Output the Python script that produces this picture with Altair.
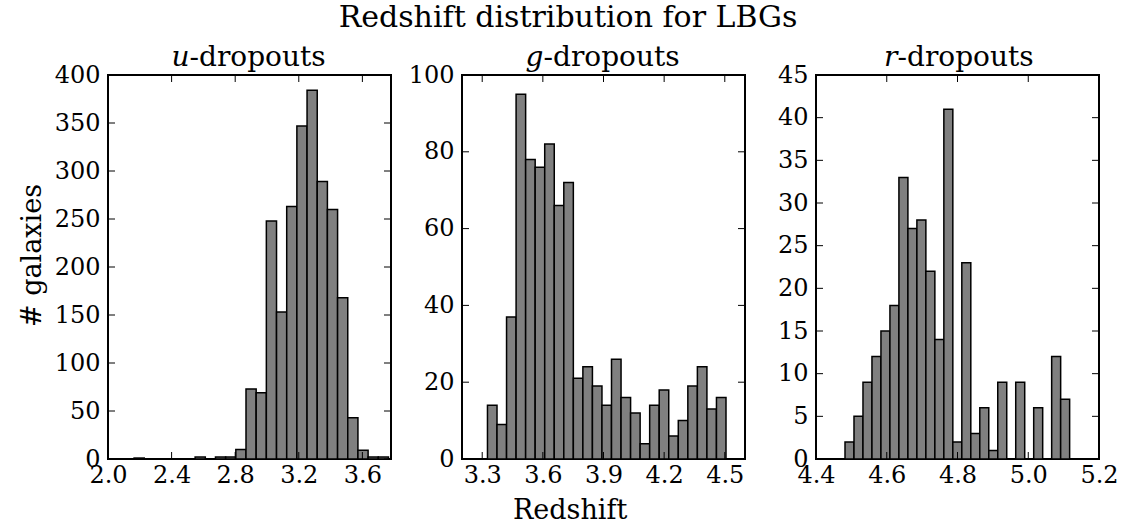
import altair as alt
import pandas as pd

FONT = "DejaVu Serif"
W, H = 283, 384          # plot area of each panel
TICK = 7                 # inward tick length
SPLIT = W / 2 - 60       # where the italic band letter meets "-dropouts"

# u-dropouts: left bin edges, bin width and counts
u_lo = [2.036, 2.100, 2.164, 2.228, 2.292, 2.356, 2.420, 2.484, 2.548,
        2.612, 2.676, 2.740, 2.804, 2.868, 2.932, 2.996, 3.060, 3.124,
        3.188, 3.252, 3.316, 3.380, 3.444, 3.508, 3.572, 3.636, 3.700]
u_width = 0.064
u_counts = [0, 0, 1, 0, 0, 0, 0, 0, 2, 0, 2, 2, 10, 73, 69, 248, 153, 263,
            347, 384, 289, 260, 168, 43, 9, 2, 2]
u_xdomain = [2.0, 3.78]
u_xticks = [2.0, 2.4, 2.8, 3.2, 3.6]
u_ydomain = [0, 400]
u_yticks = [0, 50, 100, 150, 200, 250, 300, 350, 400]

# g-dropouts
g_lo = [3.3260, 3.3732, 3.4204, 3.4676, 3.5148, 3.5620, 3.6092, 3.6564,
        3.7036, 3.7508, 3.7980, 3.8452, 3.8924, 3.9396, 3.9868, 4.0340,
        4.0812, 4.1284, 4.1756, 4.2228, 4.2700, 4.3172, 4.3644, 4.4116,
        4.4588]
g_width = 0.0472
g_counts = [14, 9, 37, 95, 78, 76, 82, 66, 72, 21, 24, 19, 14, 26, 16, 12,
            4, 14, 18, 6, 10, 19, 24, 13, 16]
g_xdomain = [3.2, 4.6]
g_xticks = [3.3, 3.6, 3.9, 4.2, 4.5]
g_ydomain = [0, 100]
g_yticks = [0, 20, 40, 60, 80, 100]

# r-dropouts
r_lo = [4.4820, 4.5074, 4.5328, 4.5582, 4.5836, 4.6090, 4.6344, 4.6598,
        4.6852, 4.7106, 4.7360, 4.7614, 4.7868, 4.8122, 4.8376, 4.8630,
        4.8884, 4.9138, 4.9392, 4.9646, 4.9900, 5.0154, 5.0408, 5.0662,
        5.0916]
r_width = 0.0254
r_counts = [2, 5, 9, 12, 15, 18, 33, 27, 28, 22, 14, 41, 2, 23, 3, 6, 1, 9,
            0, 9, 0, 6, 0, 12, 7]
r_xdomain = [4.4, 5.2]
r_xticks = [4.4, 4.6, 4.8, 5.0, 5.2]
r_ydomain = [0, 45]
r_yticks = [0, 5, 10, 15, 20, 25, 30, 35, 40, 45]


def panel(letter, lo, width, counts, xdomain, xticks, ydomain, yticks,
          xtitle=None, ytitle=None):
    bins = pd.DataFrame({"lo": lo, "hi": [v + width for v in lo],
                         "n": counts, "base": [0] * len(lo)})
    xscale = alt.Scale(domain=xdomain, nice=False, zero=False)
    yscale = alt.Scale(domain=ydomain, nice=False, zero=False)

    xkw = dict(values=xticks, format=".1f", ticks=False, domain=False,
               grid=False, labelPadding=4, labelFlush=False, title=xtitle)
    if xtitle:
        xkw.update(titleX=568 - (106 + 354.35), titleY=51,
                   titleAlign="center", titleBaseline="middle")
    xaxis = alt.Axis(**xkw)

    ykw = dict(values=yticks, format="d", ticks=False, domain=False,
               grid=False, labelPadding=8, labelFlush=False, title=ytitle)
    if ytitle:
        ykw.update(titleX=-76, titleY=180, titleAngle=270,
                   titleAlign="center", titleBaseline="middle")
    yaxis = alt.Axis(**ykw)

    bars = alt.Chart(bins).mark_rect(
        fill="#808080", stroke="black", strokeWidth=1.5
    ).encode(
        x=alt.X("lo:Q", scale=xscale, axis=xaxis),
        x2="hi:Q",
        y=alt.Y("n:Q", scale=yscale, axis=yaxis),
        y2="base:Q",
    )

    xt = pd.DataFrame({"v": xticks})
    yt = pd.DataFrame({"v": yticks})
    tick_x = alt.X("v:Q", scale=xscale, axis=xaxis)
    tick_y = alt.Y("v:Q", scale=yscale, axis=yaxis)
    rule = dict(color="black", strokeWidth=1)
    bottom = alt.Chart(xt).mark_rule(**rule).encode(
        x=tick_x, y=alt.value(H), y2=alt.value(H - TICK))
    top = alt.Chart(xt).mark_rule(**rule).encode(
        x=tick_x, y=alt.value(0), y2=alt.value(TICK))
    left = alt.Chart(yt).mark_rule(**rule).encode(
        y=tick_y, x=alt.value(0), x2=alt.value(TICK))
    right = alt.Chart(yt).mark_rule(**rule).encode(
        y=tick_y, x=alt.value(W), x2=alt.value(W - TICK))

    head = pd.DataFrame({"band": [letter], "rest": ["-dropouts"]})
    band = alt.Chart(head).mark_text(
        font=FONT, fontSize=28, fontStyle="italic", align="right",
        baseline="alphabetic", color="black"
    ).encode(x=alt.value(SPLIT), y=alt.value(-9), text="band:N")
    rest = alt.Chart(head).mark_text(
        font=FONT, fontSize=28, align="left", baseline="alphabetic",
        color="black"
    ).encode(x=alt.value(SPLIT), y=alt.value(-9), text="rest:N")

    return alt.layer(bars, bottom, top, left, right, band, rest).properties(
        width=W, height=H)


p_u = panel("u", u_lo, u_width, u_counts, u_xdomain, u_xticks,
            u_ydomain, u_yticks, ytitle="# galaxies")
p_g = panel("g", g_lo, g_width, g_counts, g_xdomain, g_xticks,
            g_ydomain, g_yticks, xtitle="Redshift")
p_r = panel("r", r_lo, r_width, r_counts, r_xdomain, r_xticks,
            r_ydomain, r_yticks)

chart = alt.hconcat(
    p_u, p_g, p_r, spacing=71, bounds="flush",
    title=alt.Title("Redshift distribution for LBGs", font=FONT,
                    fontSize=30, fontWeight="normal", color="black",
                    anchor="middle", offset=10),
).properties(
    padding={"left": 17, "top": 3, "right": 10, "bottom": 5},
    background="white",
).configure_view(
    stroke="black", strokeWidth=2
).configure_axis(
    labelFont=FONT, labelFontSize=24, labelColor="black",
    titleFont=FONT, titleFontSize=27, titleFontWeight="normal",
    titleColor="black",
)

chart.save("out.html", embed_options={"renderer": "svg", "actions": False})
